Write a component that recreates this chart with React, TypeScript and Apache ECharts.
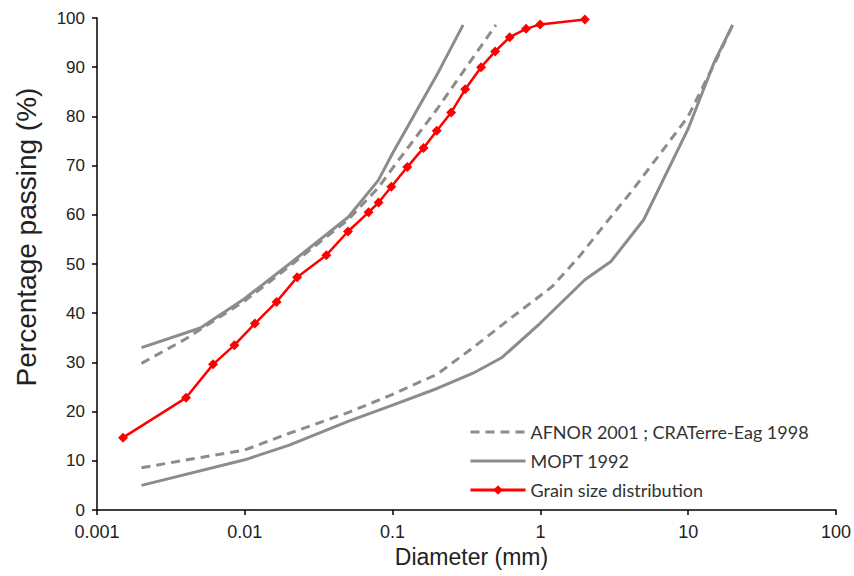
import React, { useEffect, useRef } from "react";
import * as echarts from "echarts";

// Grading envelope limits (diameter mm, % passing)
const afnorUpper: [number, number][] = [
  [0.002, 29.8], [0.004, 34.8], [0.01, 42.5], [0.02, 49.5], [0.05, 59],
  [0.08, 65.5], [0.1, 69.5], [0.2, 81.5], [0.5, 98.6],
];
const afnorLower: [number, number][] = [
  [0.002, 8.6], [0.01, 12.2], [0.02, 15.6], [0.05, 19.8], [0.1, 23.5],
  [0.2, 27.6], [0.35, 33], [0.65, 39.3], [1.2, 45.4], [1.83, 51.5],
  [2.77, 58.3], [4.2, 65], [7, 73.8], [10, 80], [15.8, 92], [20, 98.6],
];
const moptUpper: [number, number][] = [
  [0.002, 33], [0.005, 37], [0.01, 43], [0.02, 50], [0.05, 59.5],
  [0.08, 67], [0.1, 72.5], [0.2, 88.5], [0.3, 98.6],
];
const moptLower: [number, number][] = [
  [0.002, 5], [0.01, 10.2], [0.02, 13.2], [0.05, 18], [0.1, 21.3],
  [0.2, 24.7], [0.35, 27.8], [0.55, 31], [1, 38], [2, 46.8], [3, 50.5],
  [5, 59], [10, 77.5], [15, 91], [20, 98.6],
];
const grainSize: [number, number][] = [
  [0.0015, 14.7], [0.004, 22.8], [0.0061, 29.6], [0.0085, 33.5], [0.0117, 37.9],
  [0.0164, 42.3], [0.0226, 47.3], [0.0356, 51.8], [0.0499, 56.6], [0.0688, 60.5],
  [0.0804, 62.5], [0.098, 65.7], [0.1256, 69.7], [0.162, 73.6], [0.199, 77.1],
  [0.249, 80.8], [0.31, 85.5], [0.397, 90], [0.494, 93.2], [0.62, 96.1],
  [0.8, 97.8], [0.995, 98.7], [2.0, 99.7],
];

const NAME_AFNOR = "AFNOR 2001 ; CRATerre-Eag 1998";
const NAME_MOPT = "MOPT 1992";
const NAME_GRAIN = "Grain size distribution";
const xTickLabels = ["0.001", "0.01", "0.1", "1", "10", "100"];

const GRAY = "#8c8c8c";
const RED = "#ff0000";

export default function App() {
  const ref = useRef<HTMLDivElement>(null);
  useEffect(() => {
    if (!ref.current) return;
    const chart = echarts.init(ref.current, null, { renderer: "svg" });
    const grayLine = (name: string, data: [number, number][], dashed: boolean) => ({
      name,
      type: "line",
      data,
      showSymbol: false,
      symbol: "none",
      lineStyle: { color: GRAY, width: 3, type: dashed ? [9, 6] : "solid" },
      itemStyle: { color: GRAY },
      z: 2,
    });
    chart.setOption({
      animation: false,
      grid: { left: 97, right: 17, top: 18, bottom: 66 },
      legend: {
        data: [
          {
            name: NAME_AFNOR,
            itemStyle: { opacity: 0 },
            lineStyle: { color: GRAY, width: 3, type: [9, 6] },
          },
          {
            name: NAME_MOPT,
            itemStyle: { opacity: 0 },
            lineStyle: { color: GRAY, width: 3 },
          },
          {
            name: NAME_GRAIN,
            lineStyle: { color: RED, width: 3 },
          },
        ],
        orient: "vertical",
        left: 464,
        top: 418,
        itemWidth: 55,
        itemHeight: 12,
        itemGap: 11,
        textStyle: { fontFamily: "Lato", fontSize: 18, color: "#333" },
      },
      xAxis: {
        type: "log",
        logBase: 10,
        min: 0.001,
        max: 100,
        name: "Diameter (mm)",
        nameLocation: "middle",
        nameGap: 29,
        nameTextStyle: {
          fontFamily: "Liberation Sans",
          fontSize: 23,
          color: "#222",
          padding: [0, 0, 0, 10],
        },
        axisLine: { lineStyle: { color: "#000", width: 1.5 } },
        axisTick: { show: true, length: 5, lineStyle: { color: "#000", width: 1.5 } },
        minorTick: { show: false },
        splitLine: { show: false },
        axisLabel: {
          fontFamily: "Liberation Sans",
          fontSize: 18,
          color: "#222",
          margin: 13,
          formatter: (v: number) => {
            const idx = Math.round(Math.log10(v)) + 3;
            return xTickLabels[idx] ?? String(v);
          },
        },
      },
      yAxis: {
        type: "value",
        min: 0,
        max: 100,
        interval: 10,
        name: "Percentage passing (%)",
        nameLocation: "middle",
        nameGap: 57,
        nameTextStyle: {
          fontFamily: "Liberation Sans",
          fontSize: 28,
          color: "#222",
          padding: [0, 0, 0, 54],
        },
        axisLine: { show: true, lineStyle: { color: "#000", width: 1.5 } },
        axisTick: { show: true, length: 5, lineStyle: { color: "#000", width: 1.5 } },
        splitLine: { show: false },
        axisLabel: { fontFamily: "Liberation Sans", fontSize: 17, color: "#222", margin: 12 },
      },
      series: [
        grayLine(NAME_AFNOR, afnorUpper, true),
        grayLine(NAME_AFNOR, afnorLower, true),
        grayLine(NAME_MOPT, moptUpper, false),
        grayLine(NAME_MOPT, moptLower, false),
        {
          name: NAME_GRAIN,
          type: "line",
          data: grainSize,
          symbol: "diamond",
          symbolSize: 10,
          lineStyle: { color: RED, width: 2.5 },
          itemStyle: { color: RED },
          z: 3,
        },
      ],
    });
    return () => chart.dispose();
  }, []);
  return <div ref={ref} style={{ width: 854, height: 576, position: "absolute", left: 0, top: 0 }} />;
}
